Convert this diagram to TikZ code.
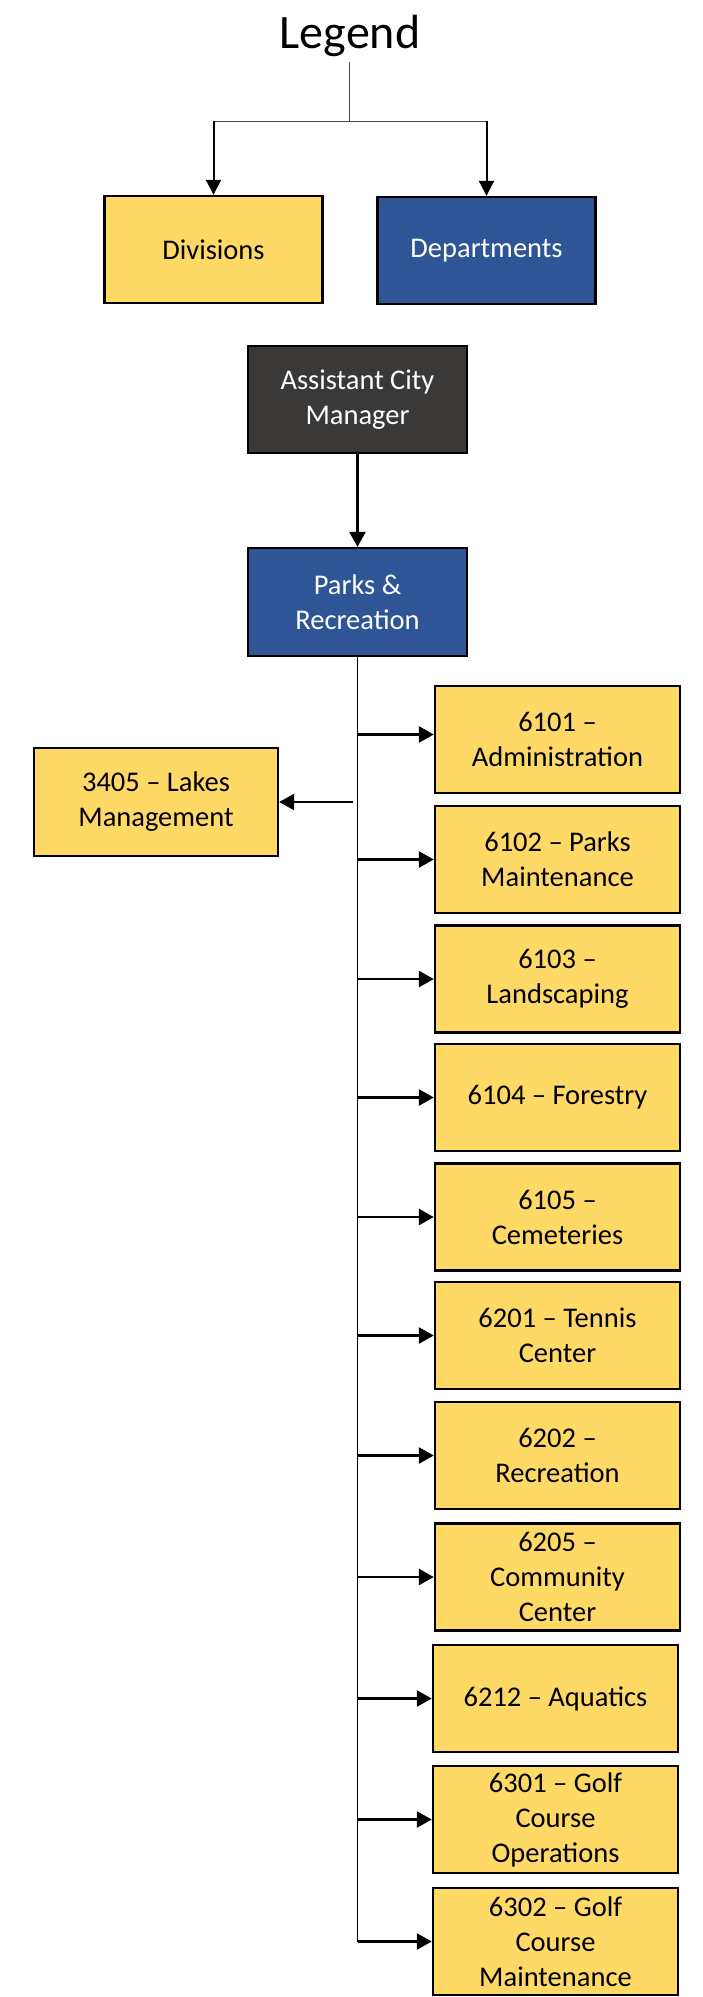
\documentclass[tikz,border=0pt]{standalone}
\usepackage{fontspec}
\setmainfont{Carlito}
\usepackage{tikz}
\usetikzlibrary{arrows.meta,positioning}
\definecolor{divyellow}{HTML}{FFD966}
\definecolor{deptblue}{HTML}{2F5597}
\definecolor{mgrdark}{HTML}{3B3838}
\tikzset
{
    divnode/.style  = {rectangle, draw=black, line width=2.4pt, fill=divyellow, align=center, inner sep=0pt, minimum width=245pt, minimum height=107pt, font=\fontsize{28.5}{35}\selectfont},
    deptnode/.style = {divnode, fill=deptblue, text=white, minimum width=218pt},
    mgrnode/.style  = {divnode, fill=mgrdark, text=white, minimum width=218pt},
    trunk/.style    = {draw=black, line width=1pt},
    branch/.style   = {draw=black, line width=2.6pt, -{Triangle[length=15pt,width=16pt]}},
    legline/.style  = {draw=black!70, line width=1pt},
    legarrow/.style = {draw=black, line width=2pt, -{Triangle[length=15pt,width=15pt]}}
}

\begin{document}
\begin{tikzpicture}[x=1pt,y=-1pt]
	\useasboundingbox (0,0) rectangle (703,1997);
	\node[anchor=base, inner sep=0pt, font=\fontsize{48}{58}\selectfont] (legend) at (350,48) {Legend};
	\node[divnode, minimum width=218pt] (div) at (213.5,249.5) {Divisions};
	\node[deptnode] (dept) at (486.5,250.5) {Departments};
	\coordinate (legtop) at (349,62);
	\coordinate (split) at (349,121);
	\draw[legline] (legtop) -- (split);
	\draw[legline] (div.north |- split) -- (dept.north |- split);
	\draw[legarrow] (div.north |- split) -- (div.north);
	\draw[legarrow] (dept.north |- split) -- (dept.north);

	\node[mgrnode, minimum width=219pt] (acm) at (357.5,399.5) {Assistant City\\Manager};
	\node[deptnode, minimum width=219pt, minimum height=108pt] (parks) at (357.5,602) {Parks \&\\Recreation};
	\draw[branch] (acm) -- (parks);

	\node[divnode, minimum width=244pt, minimum height=108pt] (lakes) at (156,802) {3405 -- Lakes\\Management};
	\node[divnode] (d6101) at (557.5,739.5) {6101 --\\Administration};
	\node[divnode] (d6102) at (557.5,859.5) {6102 -- Parks\\Maintenance};
	\node[divnode] (d6103) at (557.5,979) {6103 --\\Landscaping};
	\node[divnode] (d6104) at (557.5,1097.5) {6104 -- Forestry};
	\node[divnode] (d6105) at (557.5,1217) {6105 --\\Cemeteries};
	\node[divnode] (d6201) at (557.5,1335.5) {6201 -- Tennis\\Center};
	\node[divnode] (d6202) at (557.5,1455.5) {6202 --\\Recreation};
	\node[divnode] (d6205) at (557.5,1577) {6205 --\\Community\\Center};
	\node[divnode] (d6212) at (555.5,1698.5) {6212 -- Aquatics};
	\node[divnode] (d6301) at (555.5,1819.5) {6301 -- Golf\\Course\\Operations};
	\node[divnode] (d6302) at (555.5,1941.5) {6302 -- Golf\\Course\\Maintenance};

	\draw[trunk] (parks.south) -- (parks.south |- d6302.west);
	\draw[branch] ([xshift=-5pt]parks.south |- lakes.east) -- (lakes.east);
	\draw[branch] ([yshift=5pt]parks.south |- d6101.west) -- ([yshift=5pt]d6101.west);
	\draw[branch] (parks.south |- d6102.west) -- (d6102.west);
	\draw[branch] (parks.south |- d6103.west) -- (d6103.west);
	\draw[branch] (parks.south |- d6104.west) -- (d6104.west);
	\draw[branch] (parks.south |- d6105.west) -- (d6105.west);
	\draw[branch] (parks.south |- d6201.west) -- (d6201.west);
	\draw[branch] (parks.south |- d6202.west) -- (d6202.west);
	\draw[branch] (parks.south |- d6205.west) -- (d6205.west);
	\draw[branch] (parks.south |- d6212.west) -- (d6212.west);
	\draw[branch] (parks.south |- d6301.west) -- (d6301.west);
	\draw[branch] (parks.south |- d6302.west) -- (d6302.west);
\end{tikzpicture}
\end{document}
